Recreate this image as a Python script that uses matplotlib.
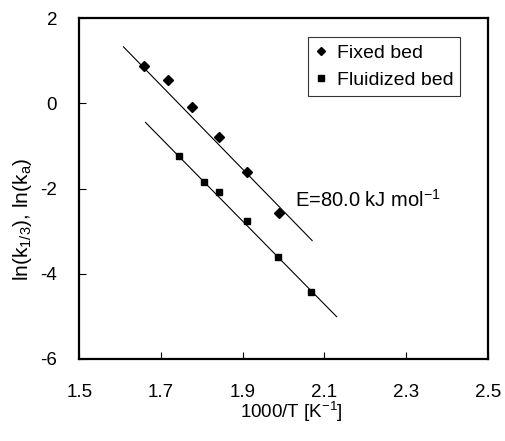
import matplotlib
matplotlib.use('Agg')
import matplotlib.pyplot as plt
import numpy as np

plt.rcParams['font.family'] = ['Liberation Sans', 'DejaVu Sans']
plt.rcParams['mathtext.fontset'] = 'custom'
plt.rcParams['mathtext.rm'] = 'Liberation Sans'
plt.rcParams['mathtext.it'] = 'Liberation Sans'

# data
fixed_x = [1.659, 1.716, 1.775, 1.842, 1.911, 1.988]
fixed_y = [0.887, 0.552, -0.089, -0.793, -1.615, -2.571]
fluid_x = [1.744, 1.805, 1.841, 1.911, 1.987, 2.067]
fluid_y = [-1.225, -1.836, -2.070, -2.758, -3.596, -4.432]

# Arrhenius fit lines: slope, intercept, x range
fixed_fit = (-9.85, 17.17, 1.608, 2.070)
fluid_fit = (-9.75, 15.76, 1.662, 2.130)

xticks = [1.5, 1.7, 1.9, 2.1, 2.3, 2.5]
yticks = [-6, -4, -2, 0, 2]

fig = plt.figure(figsize=(5.05, 4.41), dpi=100)
ax = fig.add_axes([0.157, 0.186, 0.809, 0.7725])

for slope, icpt, x0, x1 in (fixed_fit, fluid_fit):
    xs = np.array([x0, x1])
    ax.plot(xs, slope * xs + icpt, color='black', lw=0.8, zorder=2)

ax.plot(fixed_x, fixed_y, 'D', color='black', ms=5, ls='none', label='Fixed bed', zorder=3)
ax.plot(fluid_x, fluid_y, 's', color='black', ms=5, ls='none', label='Fluidized bed', zorder=3)

ax.text(2.028, -2.43, 'E=80.0 kJ mol$^{-1}$', fontsize=14.5, ha='left', va='baseline')

ax.set_xlim(1.5, 2.5)
ax.set_ylim(-6, 2)
ax.set_xticks(xticks)
ax.set_yticks(yticks)
ax.set_xticklabels(['%.1f' % t for t in xticks])
ax.set_yticklabels(['%d' % t for t in yticks])
ax.tick_params(direction='in', length=5, width=0.8, labelsize=13.5)
ax.tick_params(axis='x', pad=18)
ax.tick_params(axis='y', pad=16)
for s in ax.spines.values():
    s.set_linewidth(1.6)

ax.set_xlabel('1000/T [K$^{-1}$]', fontsize=13.5, va='center')
ax.xaxis.set_label_coords(0.52, -0.156)
ax.set_ylabel(r'ln(k$_{1/3}$), ln(k$_{a}$)', fontsize=15, va='center')
ax.yaxis.set_label_coords(-0.138, 0.41)

leg = ax.legend(loc='upper right', bbox_to_anchor=(0.932, 0.944), borderaxespad=0,
                fontsize=14, frameon=True, fancybox=False, markerscale=0.75,
                handlelength=0.6, handletextpad=0.5, borderpad=0.35, labelspacing=0.5)
leg.get_frame().set_edgecolor('black')
leg.get_frame().set_linewidth(0.8)

fig.savefig('out.png', dpi=100)
